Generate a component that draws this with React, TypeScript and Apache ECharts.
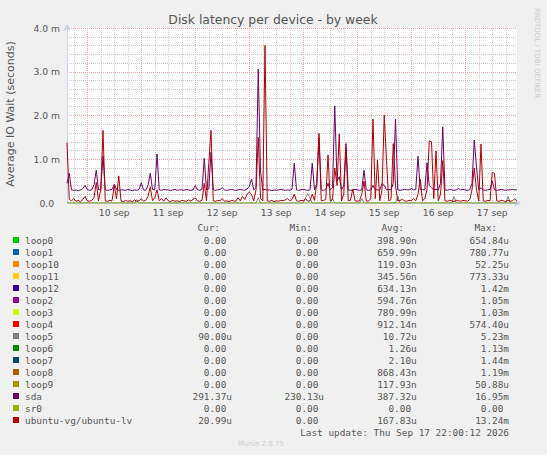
import { useEffect, useRef } from "react";
import * as echarts from "echarts";

// hourly samples, index 0 = 9 sep 15:00, values in milliseconds
const DAY_LABELS = ["10 sep", "11 sep", "12 sep", "13 sep", "14 sep", "15 sep", "16 sep", "17 sep"];
const Y_TICKS = [0, 1, 2, 3, 4];

const SDA = [
  0.45, 0.68, 0.3, 0.29, 0.3, 0.28, 0.3, 0.33, 0.4, 0.31, 0.29, 0.3,
  0.42, 0.75, 0.3, 0.31, 1.07, 0.3, 0.29, 0.3, 0.31, 0.43, 0.31, 0.29,
  0.3, 0.3, 0.29, 0.31, 0.3, 0.28, 0.3, 0.29, 0.31, 0.46, 0.3, 0.29,
  0.4, 0.68, 0.31, 0.3, 1.12, 0.3, 0.29, 0.31, 0.3, 0.3, 0.28, 0.3,
  0.31, 0.29, 0.3, 0.3, 0.29, 0.31, 0.3, 0.29, 0.3, 0.4, 0.3, 0.29,
  0.31, 1.02, 0.3, 0.32, 1.16, 0.3, 0.29, 0.3, 0.31, 0.35, 0.3, 0.29,
  0.3, 0.31, 0.3, 0.29, 0.3, 0.31, 0.3, 0.29, 0.32, 0.38, 0.55, 0.3,
  0.35, 3.06, 0.73, 0.3, 0.31, 0.29, 0.3, 0.28, 0.3, 0.29, 0.3, 0.31,
  0.3, 0.29, 0.3, 0.29, 0.31, 0.91, 0.3, 0.29, 0.3, 0.31, 0.3, 0.29,
  0.3, 0.91, 0.3, 0.42, 1.5, 0.3, 0.29, 0.31, 0.45, 0.3, 0.35, 2.22,
  0.5, 0.6, 0.3, 0.4, 1.36, 0.3, 0.29, 0.3, 0.31, 0.3, 0.29, 0.3,
  0.75, 0.3, 0.29, 0.3, 0.4, 0.31, 0.3, 0.29, 0.45, 0.4, 0.3, 0.31,
  0.3, 0.45, 1.92, 0.3, 0.29, 0.3, 0.31, 0.3, 0.3, 0.33, 0.3, 0.31,
  1.07, 0.3, 0.31, 0.3, 0.92, 0.4, 0.35, 0.3, 0.31, 0.3, 0.45, 1.74,
  0.3, 0.29, 0.31, 0.3, 0.29, 0.3, 0.33, 0.3, 0.31, 0.3, 0.29, 0.3,
  0.45, 1.44, 0.82, 0.3, 0.35, 0.3, 0.29, 0.3, 0.31, 0.5, 0.3, 0.29,
  0.3, 0.31, 0.3, 0.29, 0.3, 0.3, 0.31, 0.3, 0.3,
];

const UBUNTU_LV = [
  1.38, 0.08, 0.05, 0.1, 0.04, 0.06, 0.03, 0.08, 0.15, 0.05, 0.04, 0.06,
  0.12, 0.47, 0.05, 0.3, 1.66, 0.05, 0.04, 0.06, 0.05, 0.4, 0.1, 0.62,
  0.05, 0.03, 0.06, 0.04, 0.05, 0.03, 0.07, 0.04, 0.05, 0.1, 0.04, 0.06,
  0.15, 0.37, 0.05, 0.12, 0.3, 0.05, 0.1, 0.04, 0.12, 0.05, 0.03, 0.06,
  0.04, 0.05, 0.03, 0.06, 0.05, 0.04, 0.07, 0.05, 0.08, 0.12, 0.05, 0.04,
  0.06, 0.45, 0.05, 0.9, 1.66, 0.05, 0.04, 0.06, 0.05, 0.1, 0.04, 0.05,
  0.03, 0.06, 0.05, 0.04, 0.12, 0.05, 0.15, 0.08, 0.2, 0.25, 0.2, 0.05,
  0.3, 1.5, 0.1, 0.05, 3.6, 0.05, 0.04, 0.06, 0.03, 0.05, 0.04, 0.06,
  0.05, 0.07, 0.1, 0.05, 0.08, 0.2, 0.05, 0.04, 0.06, 0.05, 0.1, 0.04,
  0.05, 0.2, 0.06, 0.45, 1.59, 0.05, 0.06, 0.08, 1.1, 0.05, 0.08, 0.8,
  0.4, 1.58, 0.05, 0.2, 1.26, 0.05, 0.06, 0.32, 0.05, 0.04, 0.05, 0.2,
  0.5, 0.05, 0.04, 0.1, 1.92, 0.1, 0.98, 0.05, 0.3, 2.01, 0.97, 0.05,
  0.08, 1.36, 0.4, 0.05, 0.06, 0.08, 0.05, 0.04, 0.06, 0.05, 0.1, 0.05,
  0.2, 0.55, 0.05, 0.1, 0.3, 1.42, 1.4, 0.1, 1.19, 0.05, 0.2, 0.97,
  0.05, 0.04, 0.06, 0.05, 0.03, 0.06, 0.05, 0.04, 0.06, 0.05, 0.04, 0.08,
  0.3, 0.8, 0.3, 0.05, 1.35, 0.05, 0.04, 0.06, 0.05, 0.7, 0.68, 0.05,
  0.04, 0.06, 0.05, 0.03, 0.06, 0.04, 0.05, 0.1, 0.05,
];

// [hour index, value]
const LOOP5 = [
  [0, 0], [30, 0], [31, 0.08], [32, 0], [84, 0], [85, 0.12], [86, 0],
  [105, 0], [107, 0.22], [109, 0], [117, 0], [118, 0.1], [119, 0],
  [130, 0], [131, 0.1], [132, 0], [146, 0], [147, 0.15], [148, 0],
  [171, 0], [172, 0.15], [173, 0], [195, 0], [196, 0.15], [197, 0], [200, 0],
];
const SR0 = [[0, 0], [200, 0]];

const NAMES = [
  "loop0", "loop1", "loop10", "loop11", "loop12", "loop2", "loop3", "loop4",
  "loop5", "loop6", "loop7", "loop8", "loop9", "sda", "sr0", "ubuntu-vg/ubuntu-lv",
];
const COLORS = [
  "#00CC00", "#0066B3", "#FF8000", "#FFCC00", "#330099", "#990099", "#CCFF00", "#FF0000",
  "#808080", "#008F00", "#00487D", "#B35A00", "#B38F00", "#6B006B", "#8FB300", "#B30000",
];
const CUR = ["0.00", "0.00", "0.00", "0.00", "0.00", "0.00", "0.00", "0.00", "90.00u", "0.00", "0.00", "0.00", "0.00", "291.37u", "0.00", "20.99u"];
const MIN = ["0.00", "0.00", "0.00", "0.00", "0.00", "0.00", "0.00", "0.00", "0.00", "0.00", "0.00", "0.00", "0.00", "230.13u", "0.00", "0.00"];
const AVG = ["398.90n", "659.99n", "119.03n", "345.56n", "634.13n", "594.76n", "789.99n", "912.14n", "10.72u", "1.26u", "2.10u", "868.43n", "117.93n", "387.32u", "0.00", "167.83u"];
const MAX = ["654.84u", "780.77u", "52.25u", "773.33u", "1.42m", "1.05m", "1.03m", "574.40u", "5.23m", "1.13m", "1.44m", "1.19m", "50.88u", "16.95m", "0.00", "13.24m"];

const HOURS = SDA.map((_, i) => String(i));

const MONO = "DejaVu Sans Mono";
const SANS = "DejaVu Sans";
const TXT = "#555";
const CH = 5.66;

function monoText(text: string, x: number, y: number, align = "right", fill = TXT) {
  return {
    type: "text",
    x,
    y,
    style: { text, fill, fontFamily: MONO, fontSize: 9.4, textAlign: align, textVerticalAlign: "middle" },
  };
}

function valueCell(text: string, right: number, y: number) {
  const hasUnit = /[a-z]$/.test(text);
  return monoText(text, hasUnit ? right : right - CH, y);
}

export default function App() {
  const chartRef = useRef<HTMLDivElement>(null);

  useEffect(() => {
    document.body.style.margin = "0";
    if (!chartRef.current) return;
    const chart = echarts.init(chartRef.current, null, { renderer: "svg" });

    const legend: any[] = [];
    legend.push(monoText("Cur:", 220, 227));
    legend.push(monoText("Min:", 312, 227));
    legend.push(monoText("Avg:", 404, 227));
    legend.push(monoText("Max:", 497, 227));
    NAMES.forEach((name, k) => {
      const y = 240 + k * 12;
      legend.push({ type: "rect", shape: { x: 13, y: y - 3, width: 6, height: 6 }, style: { fill: COLORS[k] } });
      legend.push(monoText(name, 25, y, "left"));
      legend.push(valueCell(CUR[k], 232, y));
      legend.push(valueCell(MIN[k], 324, y));
      legend.push(valueCell(AVG[k], 416.7, y));
      legend.push(valueCell(MAX[k], 509, y));
    });
    legend.push(monoText("Last update: Thu Sep 17 22:00:12 2026", 509, 432));

    const red = { color: "#eeaaaa", type: [1, 1], width: 1 };
    const grey = { color: "#cccccc", type: [1, 1], width: 1 };

    chart.setOption({
      animation: false,
      backgroundColor: "#f0f0f0",
      grid: { left: 67, top: 28, width: 450, height: 175, show: true, backgroundColor: "#fff", borderWidth: 0 },
      xAxis: [
        {
          type: "category",
          data: HOURS,
          boundaryGap: false,
          axisLine: { show: true, lineStyle: { color: "#c8d0f4" }, symbol: ["none", "arrow"], symbolSize: [6, 7], symbolOffset: [0, 4] },
          axisTick: { show: false },
          axisLabel: {
            interval: (i: number) => i % 24 === 21,
            formatter: (_v: string, i: number) => DAY_LABELS[(i - 21) / 24] ?? "",
            color: TXT,
            fontSize: 9.2,
            fontFamily: SANS,
            margin: 5,
          },
          splitLine: { show: true, interval: (i: number) => i % 24 === 9, lineStyle: red },
        },
        {
          type: "category",
          data: HOURS,
          boundaryGap: false,
          position: "bottom",
          axisLine: { show: false },
          axisTick: { show: false },
          axisLabel: { show: false },
          splitLine: { show: true, interval: (i: number) => i % 6 === 3 && i % 24 !== 9, lineStyle: grey },
        },
      ],
      yAxis: {
        type: "value",
        min: Y_TICKS[0],
        max: Y_TICKS[Y_TICKS.length - 1],
        interval: 1,
        axisLine: { show: true, lineStyle: { color: "#c8d0f4" }, symbol: ["none", "arrow"], symbolSize: [6, 7], symbolOffset: [0, 4] },
        axisTick: { show: false },
        axisLabel: {
          formatter: (v: number) => (v === 0 ? "{z|0.0}" : `${v.toFixed(1)} m`),
          color: TXT,
          fontSize: 9.2,
          fontFamily: SANS,
          margin: 7,
          rich: { z: { color: TXT, fontSize: 9.2, fontFamily: SANS, padding: [0, 6, 0, 0] } },
        },
        splitLine: { show: true, lineStyle: red },
        minorTick: { show: false, splitNumber: 5 },
        minorSplitLine: { show: true, lineStyle: grey },
      },
      series: [
        { name: "loop5", type: "line", data: LOOP5, showSymbol: false, symbol: "none", lineStyle: { color: "#808080", width: 1 } },
        { name: "sda", type: "line", data: SDA, showSymbol: false, symbol: "none", lineStyle: { color: "#6B006B", width: 1 } },
        { name: "sr0", type: "line", data: SR0, showSymbol: false, symbol: "none", lineStyle: { color: "#8FB300", width: 1 } },
        { name: "ubuntu-vg/ubuntu-lv", type: "line", data: UBUNTU_LV, showSymbol: false, symbol: "none", lineStyle: { color: "#B30000", width: 1 } },
      ],
      graphic: [
        {
          type: "text",
          x: 273,
          y: 19,
          style: { text: "Disk latency per device - by week", fill: TXT, fontFamily: SANS, fontSize: 12.4, textAlign: "center", textVerticalAlign: "middle" },
        },
        {
          type: "text",
          x: 10,
          y: 114,
          rotation: Math.PI / 2,
          style: { text: "Average IO Wait (seconds)", fill: TXT, fontFamily: SANS, fontSize: 11, textAlign: "center", textVerticalAlign: "middle" },
        },
        {
          type: "text",
          x: 537,
          y: 53,
          rotation: -Math.PI / 2,
          style: { text: "RRDTOOL / TOBI OETIKER", fill: "#cccccc", fontFamily: SANS, fontSize: 7, textAlign: "center", textVerticalAlign: "middle" },
        },
        {
          type: "text",
          x: 261,
          y: 444,
          style: { text: "Munin 2.0.75", fill: "#cccccc", fontFamily: SANS, fontSize: 7, textAlign: "center", textVerticalAlign: "middle" },
        },
        ...legend,
      ],
    });

    return () => chart.dispose();
  }, []);

  return <div ref={chartRef} style={{ width: 547, height: 455 }} />;
}
